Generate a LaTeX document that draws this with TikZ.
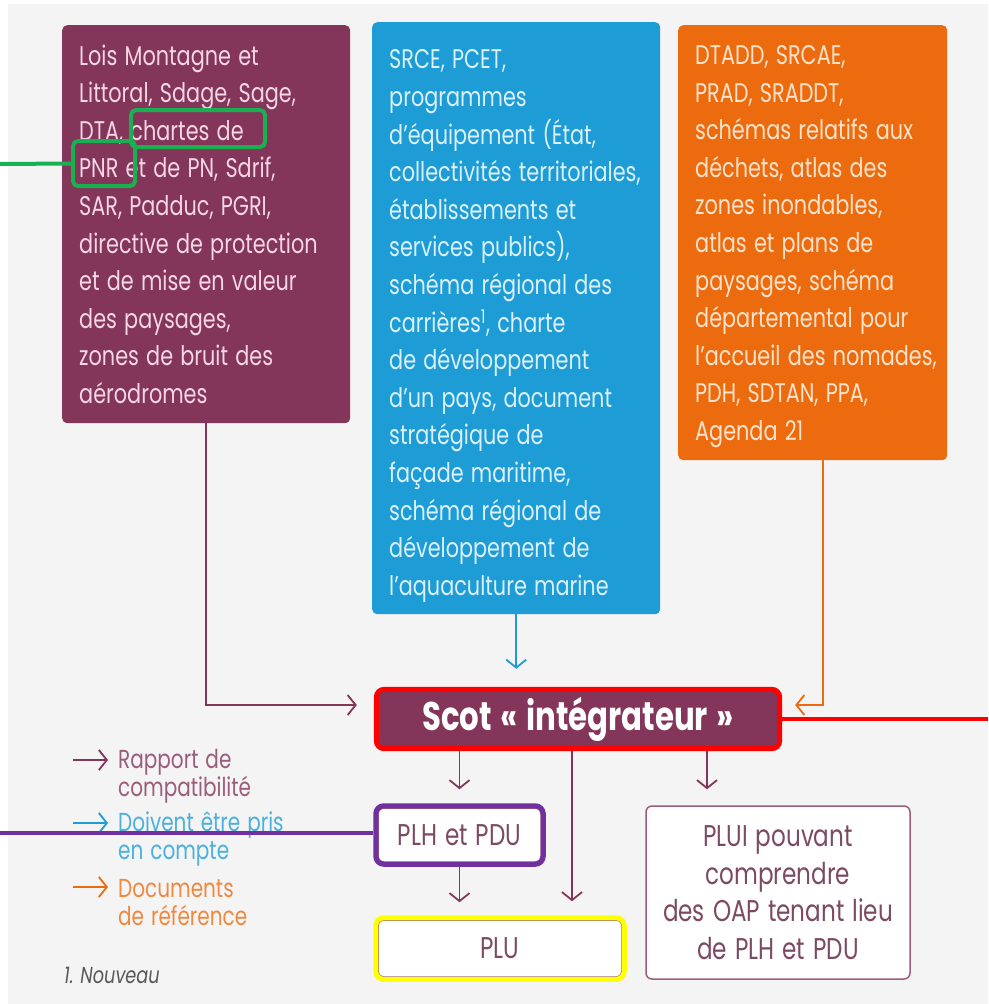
\documentclass[tikz,border=0pt]{standalone}
\usepackage{fontspec}
\setmainfont{Poppins}[FakeStretch=0.77, WordSpace=1.3]
\usetikzlibrary{arrows.meta,positioning,fit}

\definecolor{plum}{RGB}{131,53,90}
\definecolor{plumtext}{RGB}{244,214,228}
\definecolor{sky}{RGB}{30,156,214}
\definecolor{skytext}{RGB}{218,240,250}
\definecolor{tangerine}{RGB}{236,107,14}
\definecolor{tangtext}{RGB}{253,226,204}
\definecolor{greyback}{RGB}{244,244,244}
\definecolor{docgrey}{RGB}{124,74,98}
\definecolor{markgreen}{RGB}{24,176,80}
\definecolor{markred}{RGB}{255,0,0}
\definecolor{markpurple}{RGB}{112,48,160}
\definecolor{markyellow}{RGB}{255,255,0}

\newcommand{\boxtext}{\fontsize{27}{37.6}\selectfont}
\newcommand{\doctext}{\fontsize{30}{37.5}\selectfont}
\newcommand{\legendtext}{\fontsize{26}{28}\selectfont}

\begin{document}
\begin{tikzpicture}[x=1pt, y=-1pt,
    src/.style = {anchor=north west, rounded corners=5pt, inner xsep=17pt, inner ysep=0pt, align=flush left, font=\boxtext},
    doc/.style = {draw=plum!80, line width=1.5pt, fill=white, rounded corners=6pt, align=center, font=\doctext, text=docgrey, inner sep=0pt},
    link/.style = {line width=1.8pt, -{Straight Barb[length=8pt,width=20pt]}},
    legend/.style = {anchor=west, align=left, font=\legendtext, inner sep=0pt},
    hilite/.style = {draw, line width=5pt, rounded corners=8pt, inner sep=1.5pt}]

    \useasboundingbox (0,0) rectangle (988,1004);
    \fill[white] (0,0) rectangle (988,1004);
    \fill[greyback] (8,4) rectangle (988,1004);

    \node[src, fill=plum, text=plumtext, text width=254pt, minimum height=398pt] (lois) at (62,25)
        {Lois Montagne et\\Littoral, Sdage, Sage,\\DTA, chartes de\\PNR et de PN, Sdrif,\\SAR, Padduc, PGRI,\\directive de protection\\et de mise en valeur\\des paysages,\\zones de bruit des\\aérodromes};
    \node[src, fill=sky, text=skytext, text width=254pt, minimum height=592pt] (srce) at (372,22)
        {\rule{0pt}{35pt}SRCE, PCET,\\programmes\\d’équipement (État,\\collectivités territoriales,\\établissements et\\services publics),\\schéma régional des\\carrières\textsuperscript{1}, charte\\de développement\\d’un pays, document\\stratégique de\\façade maritime,\\schéma régional de\\développement de\\l’aquaculture marine};
    \node[src, fill=tangerine, text=tangtext, text width=235pt, minimum height=435pt] (dtadd) at (678,25)
        {\rule{0pt}{27pt}DTADD, SRCAE,\\PRAD, SRADDT,\\schémas relatifs aux\\déchets, atlas des\\zones inondables,\\atlas et plans de\\paysages, schéma\\départemental pour\\\mbox{l’accueil des nomades,}\\PDH, SDTAN, PPA,\\Agenda 21};

    \node[fill=plum, text=white, rounded corners=6pt, minimum width=400pt, minimum height=56pt, font=\fontsize{40}{40}\selectfont\bfseries] (scot) at (578,719) {Scot «~intégrateur~»};

    \node[doc, minimum width=163pt, minimum height=54pt] (plh) at (459.5,835) {PLH et PDU};
    \node[doc, minimum width=244pt, minimum height=57pt] (plu) at (500,948.5) {PLU};
    \node[doc, minimum width=264pt, minimum height=173pt] (plui) at (778,892.5) {PLUI pouvant\\comprendre\\des OAP tenant lieu\\de PLH et PDU};

    \coordinate (pluin) at ([xshift=72pt]plu.north);
    \coordinate (pluiin) at ([xshift=-71pt]plui.north);

    \draw[link, plum, shorten >=21pt] (lois.south) |- ([yshift=14pt]scot.west);
    \draw[link, sky, shorten >=22pt] (srce.south) -- (srce.south |- scot.north);
    \draw[link, tangerine, shorten >=17pt] ([xshift=10pt]dtadd.south) |- ([yshift=14pt]scot.east);

    \draw[link, plum, shorten >=18pt] (scot.south -| plh.north) -- (plh.north);
    \draw[link, plum, shorten >=18pt] (scot.south -| pluin) -- (pluin);
    \draw[link, plum, shorten >=16pt] (scot.south -| pluiin) -- (pluiin);
    \draw[link, plum, shorten >=17pt] (plh.south) -- (plh.south |- plu.north);

    \foreach \col/\ypos/\txt [count=\i] in {plum/776/{Rapport de\\compatibilité}, sky/839/{Doivent être pris\\en compte}, tangerine/903/{Documents\\de référence}} {
        \node[legend, text=\col!80!white] (key\i) at (118,\ypos) {\txt};
        \coordinate (keytip\i) at (108,\ypos-16);
        \coordinate (keytail\i) at (73,\ypos-16);
        \draw[link, \col] (keytail\i) -- (keytip\i);
    }
    \node[anchor=west, inner sep=0pt, font=\fontsize{23}{23}\selectfont\itshape, text=black!65] (note) at (64,975) {1.~Nouveau};

    \node[hilite, draw=markgreen, line width=4pt, rounded corners=5pt, inner sep=0pt, minimum width=134pt, minimum height=37pt] (chartes) at (198,128.5) {};
    \node[hilite, draw=markgreen, line width=4pt, rounded corners=5pt, inner sep=0pt, minimum width=62pt, minimum height=45pt] (pnr) at (104,163.5) {};
    \coordinate (pnrend) at (0,164);
    \draw[markgreen, line width=4pt] (pnrend) -- (pnr.west);

    \node[hilite, draw=markred, fit=(scot)] (scotmark) {};
    \coordinate (scotend) at (988,719);
    \draw[markred, line width=4pt] (scotmark.east) -- (scotend);

    \node[hilite, draw=markpurple, fit=(plh)] (plhmark) {};
    \coordinate (plhend) at (0,833);
    \draw[markpurple, line width=4pt] (plhend) -- (plhmark.west |- plhend);

    \node[hilite, draw=markyellow, fit=(plu)] (plumark) {};
\end{tikzpicture}
\end{document}
